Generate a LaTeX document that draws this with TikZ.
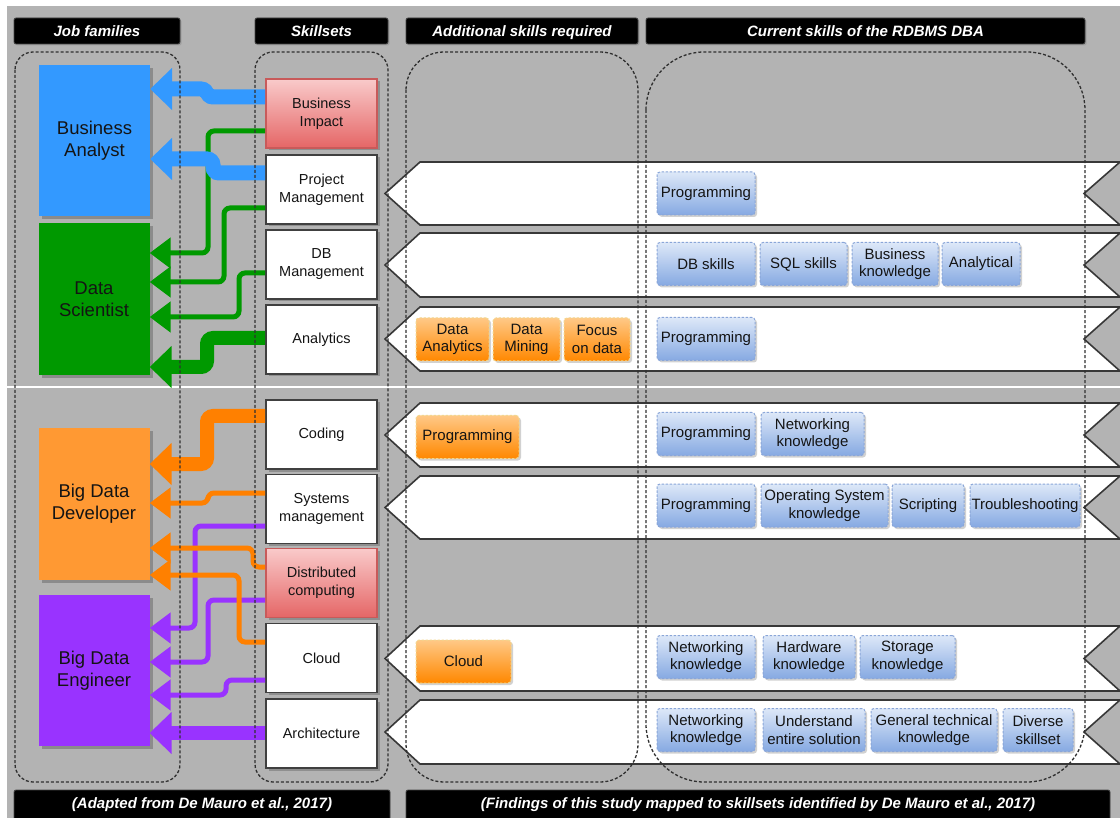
\documentclass[tikz,border=0pt]{standalone}
\usepackage{fontspec}
\setmainfont{Liberation Sans}
\usetikzlibrary{arrows.meta,shadows}

\definecolor{bg}{HTML}{B3B3B3}
\definecolor{jobblue}{HTML}{3399FF}
\definecolor{jobgreen}{HTML}{009900}
\definecolor{joborange}{HTML}{FF9933}
\definecolor{jobpurple}{HTML}{9933FF}
\definecolor{cblue}{HTML}{3399FF}
\definecolor{cgreen}{HTML}{009900}
\definecolor{corange}{HTML}{FF8000}
\definecolor{cpurple}{HTML}{9933FF}
\definecolor{boxline}{HTML}{404040}
\definecolor{redtop}{HTML}{F9CACA}
\definecolor{redbot}{HTML}{E56666}
\definecolor{redline}{HTML}{C85A5A}
\definecolor{bchiptop}{HTML}{DDE8F8}
\definecolor{bchipbot}{HTML}{86A9E2}
\definecolor{bchipline}{HTML}{8AA6D8}
\definecolor{ochiptop}{HTML}{FFC886}
\definecolor{ochipbot}{HTML}{FF8800}
\definecolor{ochipline}{HTML}{F2D68E}
\definecolor{contline}{HTML}{303030}
\definecolor{ribline}{HTML}{383838}
\definecolor{txt}{HTML}{141414}

\newcommand\hdrfont{\fontsize{15}{18}\selectfont\bfseries\itshape}
\newcommand\jobfont{\fontsize{18.5}{22}\selectfont}
\newcommand\skillfont{\fontsize{14.5}{18}\selectfont}
\newcommand\chipfont{\fontsize{15}{17.5}\selectfont}

\begin{document}
\begin{tikzpicture}[x=1pt,y=-1pt,
  hdr/.style={fill=black, draw=gray!55!black, line width=0.8pt, rounded corners=2pt,
    text=white, font=\hdrfont, minimum height=26pt, inner sep=0pt,
    text height=10.7pt, text depth=0pt,
    drop shadow={shadow xshift=1.5pt, shadow yshift=-1.5pt, opacity=0.35}},
  ftrbox/.style={fill=black, draw=gray!55!black, line width=0.8pt, rounded corners=2pt},
  ftrtext/.style={text=white, font=\hdrfont, inner sep=0pt, text height=10.7pt, text depth=0pt},
  job/.style={minimum width=111pt, minimum height=151pt, inner sep=0pt, align=center,
    font=\jobfont, text=txt,
    drop shadow={shadow xshift=3pt, shadow yshift=-3pt, fill=black, opacity=0.22}},
  skill/.style={draw=boxline, line width=1.6pt, fill=white, minimum width=111pt,
    minimum height=69pt, inner sep=0pt, align=center, font=\skillfont, text=txt,
    drop shadow={shadow xshift=2.5pt, shadow yshift=-2.5pt, fill=black, opacity=0.2}},
  redbox/.style={skill, draw=redline, top color=redtop, bottom color=redbot},
  chip/.style={rounded corners=3pt, line width=1pt, dash pattern=on 2.5pt off 1.5pt,
    minimum height=43pt, inner sep=0pt, align=center, font=\chipfont, text=txt,
    drop shadow={shadow xshift=2pt, shadow yshift=-2pt, fill=black, opacity=0.18}},
  bchip/.style={chip, draw=bchipline, top color=bchiptop, bottom color=bchipbot},
  ochip/.style={chip, draw=ochipline, top color=ochiptop, bottom color=ochipbot},
  cont/.style={draw=contline, line width=1.3pt, dash pattern=on 3pt off 2pt},
  ribbon/.style={fill=white, draw=ribline, line width=1.6pt, line join=miter},
  conn/.style={rounded corners=6pt},
  thinarrow/.style={conn, line width=5pt, -{Triangle[length=21pt,width=30pt]}},
  thickarrow/.style={conn, line width=14pt, -{Triangle[length=22pt,width=41pt]}},
]
\clip (0,0) rectangle (1120,818);
\fill[white] (0,0) rectangle (1120,818);
\fill[bg] (7,6) rectangle (1120,818);
\draw[white, line width=2pt] (7,387) -- (1120,387);

% column headers
\node[hdr, minimum width=166pt] (hjob) at (97,31) {Job families};
\node[hdr, minimum width=133pt] (hskill) at (321.5,31) {Skillsets};
\node[hdr, minimum width=232pt] (hadd) at (522,31) {Additional skills required};
\node[hdr, minimum width=439pt] (hcur) at (865.5,31) {Current skills of the RDBMS DBA};

% footers
\fill[ftrbox] (14,790) rectangle (390,830);
\node[ftrtext] (fleft) at (202,803.5) {(Adapted from De Mauro et al., 2017)};
\fill[ftrbox] (406,790) rectangle (1110,830);
\node[ftrtext] (fright) at (758,803.5) {(Findings of this study mapped to skillsets identified by De Mauro et al., 2017)};

% skill ribbons
\foreach \t/\b in {162/225, 233/297, 307/371, 403/467, 476/539, 626/691, 700/764} {
  \pgfmathsetmacro\m{(\t+\b)/2}
  \draw[ribbon] (420,\t) -- (1120,\t) -- (1084,\m) -- (1120,\b) -- (420,\b) -- (385,\m) -- cycle;
}

% job families
\node[job, fill=jobblue] (ba) at (94.5,140.5) {Business\\Analyst};
\node[job, fill=jobgreen, minimum height=152pt] (ds) at (94,299) {Data\\Scientist};
\node[job, fill=joborange, minimum height=152pt] (bdd) at (94,504) {Big Data\\Developer};
\node[job, fill=jobpurple] (bde) at (94,670.5) {Big Data\\Engineer};

% skillsets
\node[redbox] (bi) at (321.5,113.5) {Business\\Impact};
\node[skill] (pm) at (321.5,189.5) {Project\\Management};
\node[skill] (dbm) at (321.5,264.5) {DB\\Management};
\node[skill] (an) at (321.5,339.5) {Analytics};
\node[skill] (cod) at (321.5,434.5) {Coding};
\node[skill] (sys) at (321.5,509) {Systems\\management};
\node[redbox] (dc) at (321.5,583) {Distributed\\computing};
\node[skill] (cl) at (321.5,658) {Cloud};
\node[skill] (ar) at (321.5,733.5) {Architecture};

% additional skills required
\node[ochip, minimum width=73pt] (r3o1) at (452.5,339.5) {Data\\Analytics};
\node[ochip, minimum width=67pt] (r3o2) at (526.5,339.5) {Data\\Mining};
\node[ochip, minimum width=66pt] (r3o3) at (597,339.5) {Focus\\on data};
\node[ochip, minimum width=103pt] (r4o1) at (467.5,437) {Programming};
\node[ochip, minimum width=95pt] (r6o1) at (463.5,661.5) {Cloud};

% current skills of the RDBMS DBA
\node[bchip, minimum width=98pt] (r1b1) at (706,193.5) {Programming};
\node[bchip, minimum width=98pt] (r2b1) at (706,264) {DB skills};
\node[bchip, minimum width=87pt] (r2b2) at (803.5,264) {SQL skills};
\node[bchip, minimum width=86pt] (r2b3) at (895,264) {Business\\knowledge};
\node[bchip, minimum width=78pt] (r2b4) at (981,264) {Analytical};
\node[bchip, minimum width=98pt] (r3b1) at (706,339) {Programming};
\node[bchip, minimum width=98pt] (r4b1) at (706,434) {Programming};
\node[bchip, minimum width=103pt] (r4b2) at (812.5,434) {Networking\\knowledge};
\node[bchip, minimum width=98pt] (r5b1) at (706,505.5) {Programming};
\node[bchip, minimum width=127pt] (r5b2) at (824.5,505.5) {Operating System\\knowledge};
\node[bchip, minimum width=72pt] (r5b3) at (928,505.5) {Scripting};
\node[bchip, minimum width=110pt] (r5b4) at (1025,505.5) {Troubleshooting};
\node[bchip, minimum width=98pt] (r6b1) at (706,657) {Networking\\knowledge};
\node[bchip, minimum width=92pt] (r6b2) at (809,657) {Hardware\\knowledge};
\node[bchip, minimum width=95pt] (r6b3) at (907.5,657) {Storage\\knowledge};
\node[bchip, minimum width=98pt] (r7b1) at (706,730) {Networking\\knowledge};
\node[bchip, minimum width=102pt] (r7b2) at (814,730) {Understand\\entire solution};
\node[bchip, minimum width=126pt] (r7b3) at (934,730) {General technical\\knowledge};
\node[bchip, minimum width=70pt] (r7b4) at (1038,730) {Diverse\\skillset};

% connectors: Big Data Engineer
\draw[cpurple, thinarrow] (sys.west |- 0,526) -| (195,628) -- (bde.east |- 0,628);
\draw[cpurple, thinarrow] (dc.west |- 0,600) -| (208,662) -- (bde.east |- 0,662);
\draw[cpurple, thinarrow] (cl.west |- 0,680) -| (226,695) -- (bde.east |- 0,695);
\draw[cpurple, thickarrow] (ar.west |- 0,733) -- (bde.east |- 0,733);

% connectors: Big Data Developer
\draw[corange, thickarrow] (cod.west |- 0,416) -| (207,464) -- (bdd.east |- 0,464);
\draw[corange, thinarrow] (sys.west |- 0,493) -| (208,503) -- (bdd.east |- 0,503);
\draw[corange, thinarrow] (dc.west |- 0,567) -| (253,548) -- (bdd.east |- 0,548);
\draw[corange, thinarrow] (cl.west |- 0,642) -| (239,575) -- (bdd.east |- 0,575);

% connectors: Data Scientist
\draw[cgreen, thinarrow] (bi.west |- 0,131) -| (208,253) -- (ds.east |- 0,253);
\draw[cgreen, thinarrow] (pm.west |- 0,208) -| (224,282) -- (ds.east |- 0,282);
\draw[cgreen, thinarrow] (dbm.west |- 0,273) -| (239,317) -- (ds.east |- 0,317);
\draw[cgreen, thickarrow] (an.west |- 0,338) -| (207,367) -- (ds.east |- 0,367);

% connectors: Business Analyst
\draw[cblue, conn, line width=15pt, -{Triangle[length=22pt,width=41pt]}]
  (bi.west |- 0,97) -| (207,89) -- (ba.east |- 0,89);
\draw[cblue, conn, line width=15pt, -{Triangle[length=22pt,width=41pt]}]
  (pm.west |- 0,173) -| (213,159) -- (ba.east |- 0,159);

% dashed column frames
\draw[cont, rounded corners=18pt] (15,52) rectangle (180,782);
\draw[cont, rounded corners=18pt] (255,52) rectangle (388,782);
\draw[cont, rounded corners=38pt] (406,52) rectangle (638,782);
\draw[cont, rounded corners=58pt] (646,52) rectangle (1085,782);
\end{tikzpicture}
\end{document}
